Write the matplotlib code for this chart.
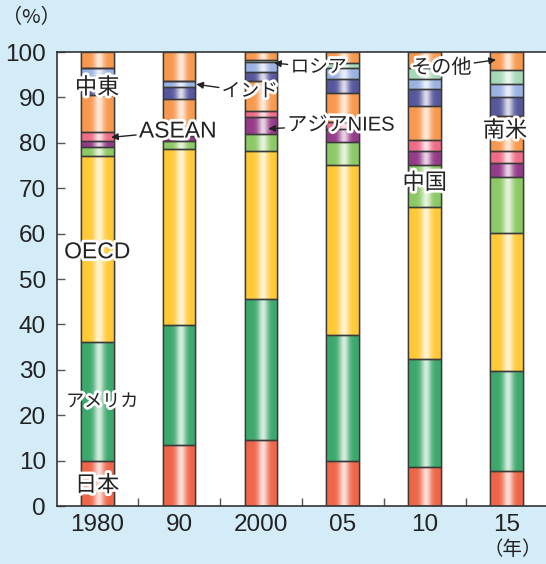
import numpy as np
import matplotlib
matplotlib.use("Agg")
import matplotlib.pyplot as plt
import matplotlib.patheffects as pe
from matplotlib.colors import to_rgb

plt.rcParams['font.family'] = ['Liberation Sans', 'Noto Sans CJK JP', 'DejaVu Sans']

years = ['1980', '90', '2000', '05', '10', '15']

# share of world GDP (%), bottom to top
japan    = [10.0, 13.5, 14.5,  9.9,  8.6,  7.8]
usa      = [26.2, 26.4, 31.1, 27.8, 23.8, 22.0]
oecd     = [40.9, 38.8, 32.6, 37.5, 33.4, 30.3]
china    = [ 2.0,  1.7,  3.8,  4.9,  9.4, 12.3]
nies     = [ 1.3,  1.1,  3.7,  3.0,  3.0,  3.1]
asean    = [ 1.9,  1.5,  1.3,  1.4,  2.5,  2.8]
samerica = [ 8.2,  6.7,  6.6,  6.5,  7.4,  7.7]
mideast  = [ 4.0,  2.5,  2.1,  3.1,  3.8,  4.1]
india    = [ 2.0,  1.4,  2.0,  2.4,  2.2,  2.9]
russia   = [ 0.0,  0.0,  0.5,  1.0,  2.4,  3.1]
others   = [ 3.5,  6.4,  1.8,  2.5,  3.5,  3.9]

series = [japan, usa, oecd, china, nies, asean, samerica, mideast, india, russia, others]
colors = ['#EE6548', '#3CA86C', '#FFC936', '#8CC864', '#953A88', '#EF6C86',
          '#F8984E', '#56569C', '#9AB2E2', '#A6D8B8', '#F8984E']

fig = plt.figure(figsize=(5.46, 5.64), dpi=100)
fig.patch.set_facecolor('#D3ECF8')
ax = fig.add_axes([0.1044, 0.1028, 0.8956, 0.805])
ax.set_facecolor('white')

x = np.arange(len(years))
width = 0.4
bottom = np.zeros(len(years))
white = np.array([1.0, 1.0, 1.0])
t = np.linspace(0, 1, 64)
glow = 0.78 * np.exp(-((t - 0.55) / 0.16) ** 2)

for vals, col in zip(series, colors):
    vals = np.array(vals)
    bars = ax.bar(x, vals, width, bottom=bottom, color=col, edgecolor='#3a3a3a',
                  linewidth=1.0, zorder=2)
    base = np.array(to_rgb(col))
    grad = base[None, :] * (1 - glow[:, None]) + white[None, :] * glow[:, None]
    grad = grad[None, :, :]
    for p in bars:
        if p.get_height() <= 0:
            continue
        x0, y0 = p.get_x(), p.get_y()
        ax.imshow(grad, extent=[x0, x0 + p.get_width(), y0, y0 + p.get_height()],
                  aspect='auto', interpolation='bilinear', zorder=2.5)
    ax.bar(x, vals, width, bottom=bottom, fill=False, edgecolor='#3a3a3a',
           linewidth=1.0, zorder=3)
    bottom += vals

ax.set_xlim(-0.49, 5.48)
ax.set_ylim(0, 100)
ax.set_yticks(np.arange(0, 101, 10))
ax.tick_params(axis='y', direction='in', length=6, width=1, color='#555555',
               labelsize=17.5, pad=8, labelcolor='#222222')
ax.set_xticks(x)
ax.set_xticklabels(years)
ax.set_xticks(x[:-1] + 0.5, minor=True)
ax.tick_params(axis='x', which='major', length=0, labelsize=17.5, pad=6, labelcolor='#222222')
ax.tick_params(axis='x', which='minor', direction='in', length=6, width=1, color='#555555')
for s in ['left', 'bottom', 'top']:
    ax.spines[s].set_color('#333333')
    ax.spines[s].set_linewidth(1.2)
ax.spines['right'].set_visible(False)

halo = [pe.withStroke(linewidth=4, foreground='white')]
lab = dict(color='#222222', ha='center', va='center', zorder=6, path_effects=halo)
arrow = dict(arrowstyle='-|>', color='#222222', lw=1.0, mutation_scale=10,
             shrinkA=0, shrinkB=0)

ax.text(0.0, 92.0, '中東', fontsize=16, **lab)
ax.text(0.0, 56.0, 'OECD', fontsize=16.5, **lab)
ax.text(0.06, 22.9, 'アメリカ', fontsize=13, **lab)
ax.text(0.0, 4.4, '日本', fontsize=16, **lab)
ax.text(4.0, 71.0, '中国', fontsize=16, **lab)
ax.text(4.98, 82.5, '南米', fontsize=16, **lab)

ann = dict(color='#222222', va='center', zorder=6, path_effects=halo, arrowprops=arrow)
ax.annotate('ASEAN', xy=(0.17, 81.2), xytext=(0.51, 82.6), ha='left', fontsize=16.5, **ann)
ax.annotate('インド', xy=(1.21, 92.9), xytext=(1.52, 91.2), ha='left', fontsize=13.5, **ann)
ax.annotate('ロシア', xy=(2.16, 97.6), xytext=(2.36, 96.5), ha='left', fontsize=13.5, **ann)
ax.annotate('アジアNIES', xy=(2.09, 83.1), xytext=(2.32, 83.9), ha='left', fontsize=14.5, **ann)
ax.annotate('その他', xy=(4.87, 98.3), xytext=(4.57, 96.5), ha='right', fontsize=14.5, **ann)

fig.text(0.057, 0.968, '（%）', fontsize=14.5, color='#222222', ha='center', va='center',
         family=['Noto Sans CJK JP'])
fig.text(0.993, 0.025, '（年）', fontsize=14, color='#222222', ha='right', va='center',
         family=['Noto Sans CJK JP'])

fig.savefig('out.png', dpi=100, facecolor=fig.get_facecolor())
